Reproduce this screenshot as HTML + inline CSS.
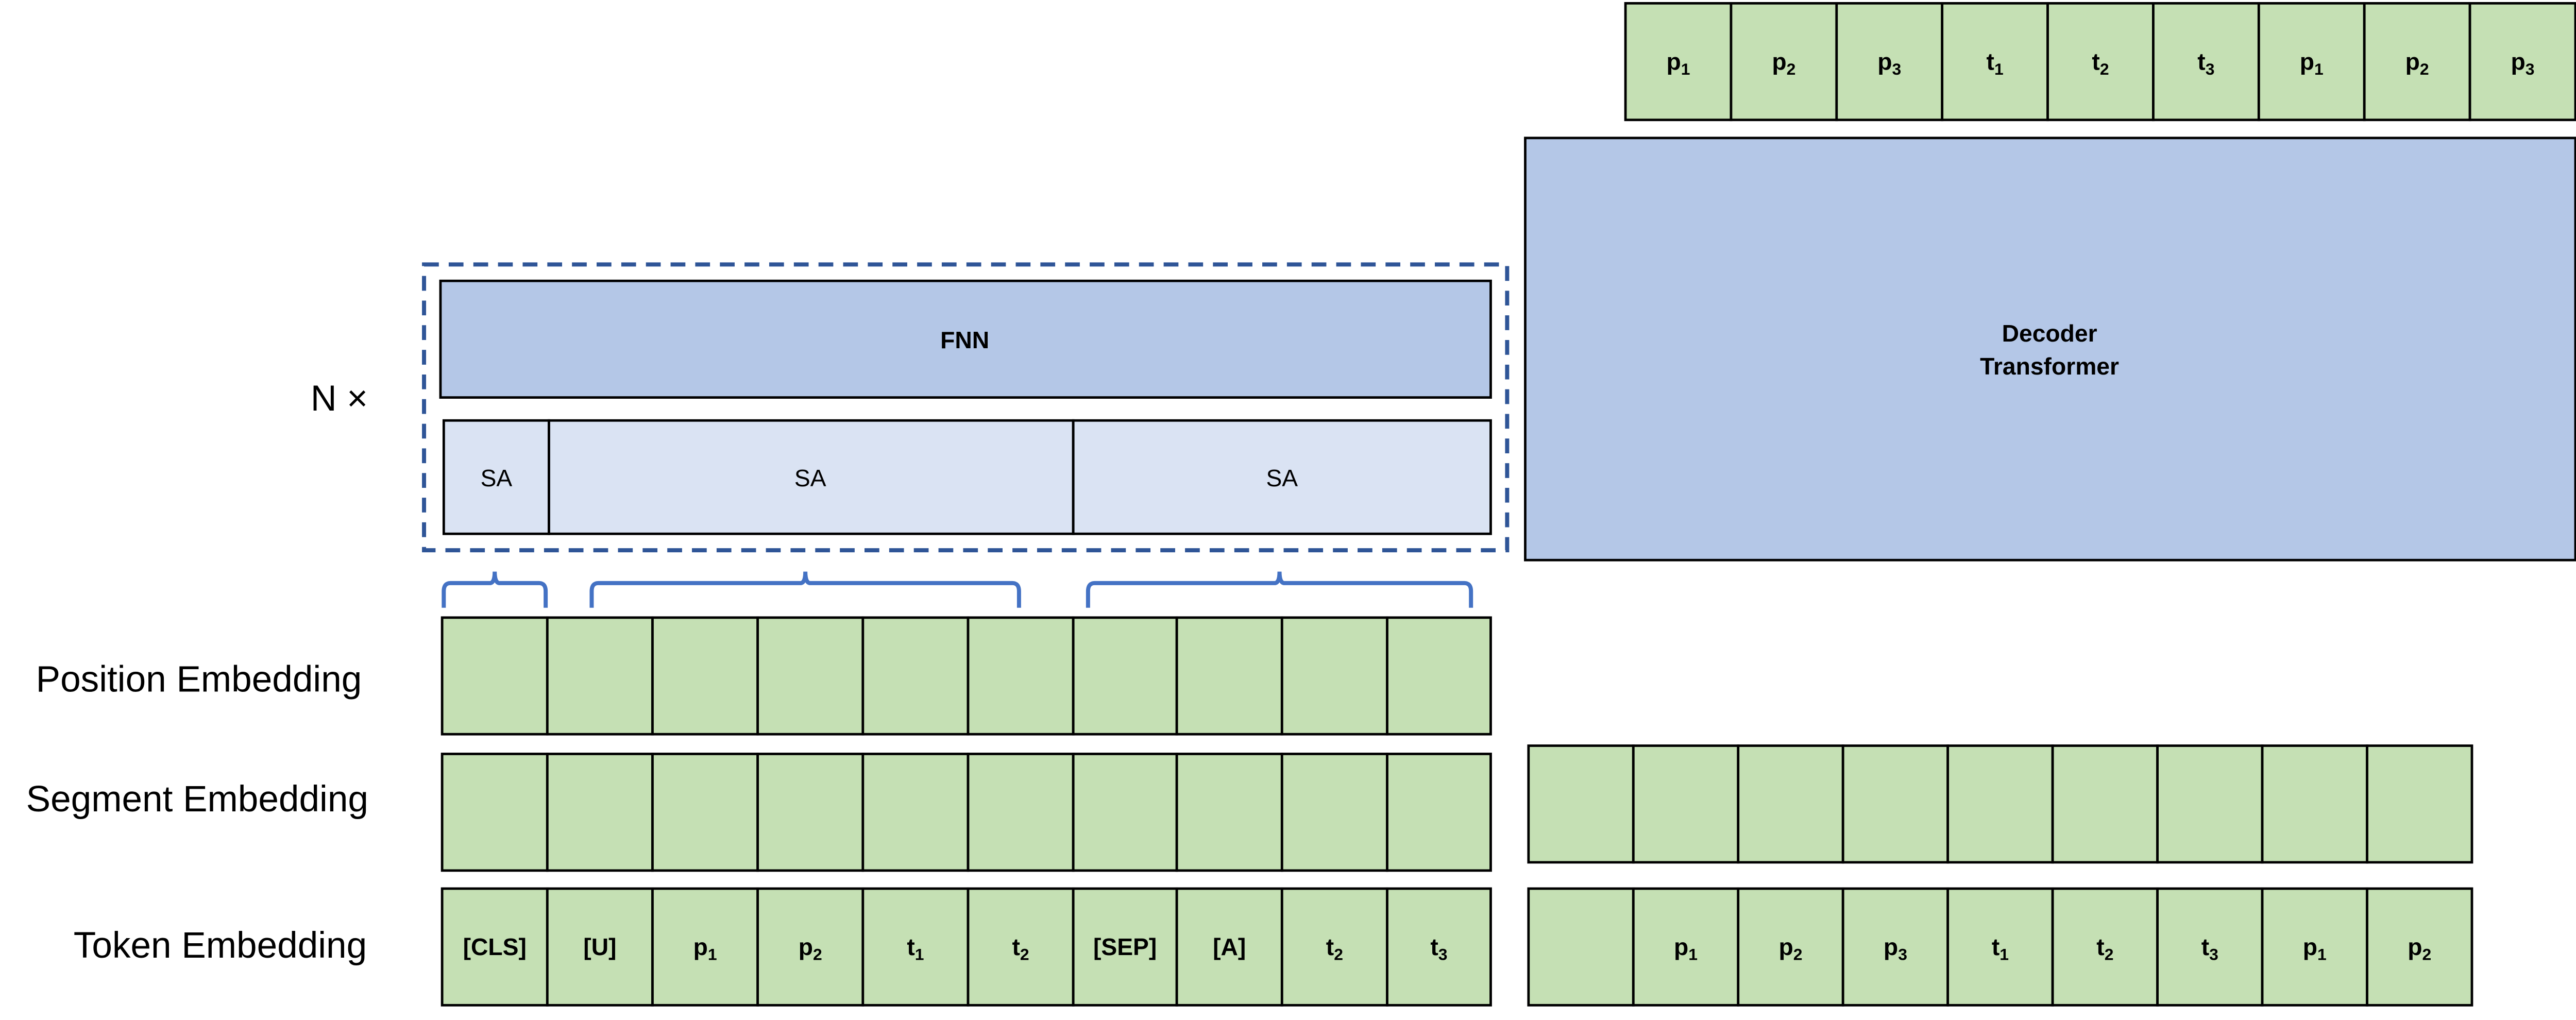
<!DOCTYPE html>
<html><head><meta charset="utf-8"><style>
html,body{margin:0;padding:0;background:#fff;}
svg{display:block;}
text{font-family:"Liberation Sans",sans-serif;}
</style></head><body>
<svg id="fig" width="5050" height="1980" viewBox="0 0 1583 621" preserveAspectRatio="none" xmlns="http://www.w3.org/2000/svg">
<g>
<text x="121" y="421" font-size="22.3" text-anchor="middle">Position Embedding</text>
<text x="120" y="494" font-size="22.3" text-anchor="middle">Segment Embedding</text>
<text x="134" y="583" font-size="22.3" text-anchor="middle">Token Embedding</text>
<text x="189" y="250" font-size="22">N ×</text>
</g>
<rect x="258" y="161" width="659" height="174" fill="none" stroke="#2f5597" stroke-width="2.5" stroke-dasharray="9,6"/>
<rect x="268" y="171" width="639" height="71" fill="#b4c7e7" stroke="#000" stroke-width="1.5"/>
<text x="587" y="212" font-size="14.5" font-weight="bold" text-anchor="middle">FNN</text>
<g>
<rect x="270" y="256" width="64" height="69" fill="#dae3f3" stroke="#000" stroke-width="1.5"/>
<rect x="334" y="256" width="319" height="69" fill="#dae3f3" stroke="#000" stroke-width="1.5"/>
<rect x="653" y="256" width="254" height="69" fill="#dae3f3" stroke="#000" stroke-width="1.5"/>
<text x="302" y="296" font-size="14.5" text-anchor="middle">SA</text>
<text x="493" y="296" font-size="14.5" text-anchor="middle">SA</text>
<text x="780" y="296" font-size="14.5" text-anchor="middle">SA</text>
</g>
<rect x="928" y="84" width="639" height="257" fill="#b4c7e7" stroke="#000" stroke-width="1.5"/>
<text x="1247" y="208" font-size="14.5" font-weight="bold" text-anchor="middle">Decoder</text>
<text x="1247" y="228" font-size="14.5" font-weight="bold" text-anchor="middle">Transformer</text>
<g id="braces"></g>
<g id="rows"></g>
</svg>
<script>
const encTokens = ["[CLS]","[U]","p1","p2","t1","t2","[SEP]","[A]","t2","t3"];
const decInputTokens = ["","p1","p2","p3","t1","t2","t3","p1","p2"];
const decOutputTokens = ["p1","p2","p3","t1","t2","t3","p1","p2","p3"];
const encBounds = [269,333,397,461,525,589,653,716,780,844,907];
const braceSpans = [[270,332],[360,620],[662,895]];
const NS = "http://www.w3.org/2000/svg";
const rows = document.getElementById('rows');
const braces = document.getElementById('braces');
function mk(tag, attrs, parent){const e=document.createElementNS(NS,tag);for(const k in attrs)e.setAttribute(k,attrs[k]);parent.appendChild(e);return e;}
function label(parent, str, cx, cy){
  if(!str) return;
  const t = mk('text',{x:cx,y:cy+5,'font-size':14.5,'font-weight':'bold','text-anchor':'middle'},parent);
  
  
  const m = str.match(/^([pt])(\d)$/);
  if(m){
    t.appendChild(document.createTextNode(m[1]));
    const s = mk('tspan',{'font-size':10,dy:3},t);
    s.textContent = m[2];
  } else t.textContent = str;
}
function row(name, x0, x1, y, h, n, tokens){
  const g = mk('g',{},rows);
  
  
  const w = (x1-x0)/n;
  for(let i=0;i<n;i++){
    const r = mk('rect',{x:x0+i*w,y:y,width:w,height:h,fill:'#c5e0b4',stroke:'#000','stroke-width':1.5},g);
    
    
    if(tokens) label(g, tokens[i], x0+i*w+w/2, y+h/2);
  }
}
function encRow(name, y, tokens){
  const g = mk('g',{},rows);
  
  
  for(let i=0;i<encBounds.length-1;i++){
    const x=encBounds[i], w=encBounds[i+1]-x;
    const r = mk('rect',{x:x,y:y,width:w,height:71,fill:'#c5e0b4',stroke:'#000','stroke-width':1.5},g);
    
    
    if(tokens) label(g, tokens[i], x+w/2, y+35.5);
  }
}
encRow('position-embedding-row',376,null);
encRow('segment-embedding-row',459,null);
encRow('token-embedding-row',541,encTokens);
row('decoder-segment-row',930,1504,454,71,9,null);
row('decoder-token-row',930,1504,541,71,9,decInputTokens);
row('decoder-output-row',989,1567,2,71,9,decOutputTokens);
braceSpans.forEach(([a,b])=>{
  const c=(a+b)/2;
  const p = mk('path',{d:`M${a},370 L${a},360 Q${a},355 ${a+4},355 L${c-3},355 Q${c},355 ${c},348 Q${c},355 ${c+3},355 L${b-4},355 Q${b},355 ${b},360 L${b},370`,fill:'none',stroke:'#4472c4','stroke-width':2.5},braces);
  
  
});
</script>
</body></html>
